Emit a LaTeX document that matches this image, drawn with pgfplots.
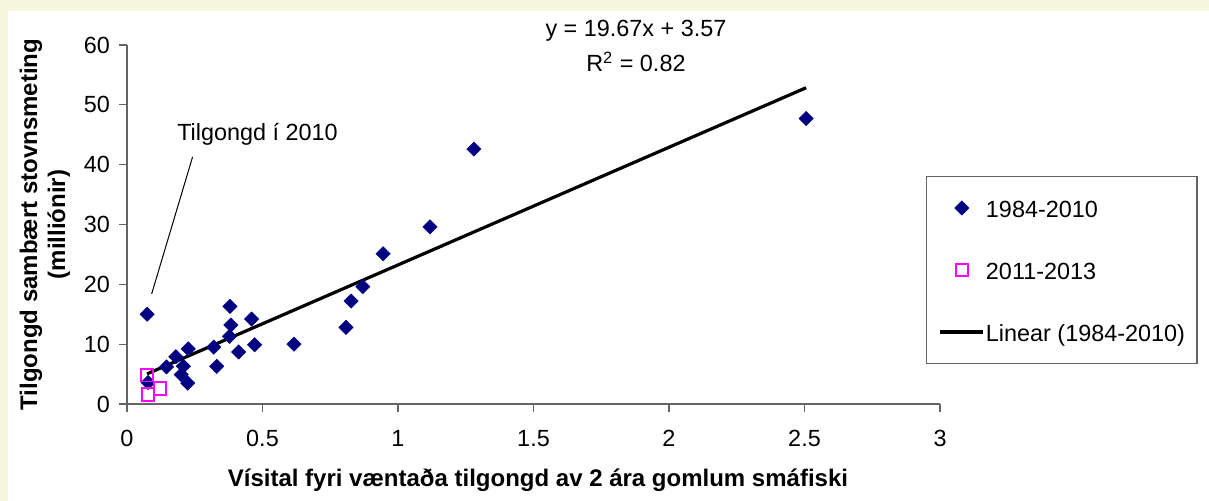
\documentclass[border=0pt]{standalone}
\usepackage{fontspec}
\setmainfont{Liberation Sans}
\usepackage{pgfplots}
\pgfplotsset{compat=1.18}
\definecolor{cream}{RGB}{245,247,223}
\definecolor{navyb}{RGB}{0,0,128}
\definecolor{magb}{RGB}{255,0,255}
\definecolor{axgray}{RGB}{100,100,100}
\newcommand{\fs}{\fontsize{11.7bp}{14bp}\selectfont}
\newcommand{\fb}{\fontsize{12bp}{14bp}\selectfont\bfseries}
\pgfplotsset{
  legmark/.style={legend image code/.code={\draw[mark repeat=2,mark phase=2,##1] plot coordinates {(0bp,0bp) (10.75bp,0bp) (21.5bp,0bp)};}},
  legline/.style={legend image code/.code={\draw[##1] (0bp,0bp) -- (21.5bp,0bp);}},
}
\pgfplotstableread{
x y
0.074 15.0
0.078 3.6
0.146 6.2
0.180 7.9
0.200 4.9
0.208 6.3
0.224 3.5
0.226 9.2
0.320 9.5
0.331 6.3
0.378 11.3
0.383 13.2
0.380 16.3
0.412 8.7
0.460 14.2
0.471 9.9
0.616 10.0
0.808 12.8
0.827 17.2
0.870 19.6
0.945 25.1
1.118 29.6
1.280 42.6
2.506 47.7
}\dataA
\pgfplotstableread{
x y
0.074 4.8
0.077 1.6
0.122 2.6
}\dataB
\begin{document}
\begin{tikzpicture}
\fill[cream] (-63.5bp,-48.5bp) rectangle (541bp,202bp);
\fill[white] (-59.5bp,-48.5bp) rectangle (541bp,196.5bp);
\begin{axis}[
  at={(0,0)}, anchor=south west,
  scale only axis, width=406.5bp, height=179.5bp,
  xmin=0, xmax=3, ymin=0, ymax=60,
  enlargelimits=false,
  axis lines=left, axis line style={-, axgray, line width=0.6bp},
  xtick={0,0.5,1,1.5,2,2.5,3}, ytick={0,10,20,30,40,50,60},
  tick align=outside, major tick length=4bp,
  tick style={axgray, line width=0.6bp},
  ticklabel style={font=\fs},
  xticklabel style={yshift=-5.5bp},
  yticklabel style={xshift=-1bp},
  /pgf/number format/assume math mode=true,
  clip=false,
  xlabel={Vísital fyri væntaða tilgongd av 2 ára gomlum smáfiski},
  xlabel style={font=\fb, at={(axis description cs:0.5055,-0.2290)}, anchor=base},
  ylabel={Tilgongd sambært stovnsmeting\\(milliónir)},
  ylabel style={font=\fb, align=center, at={(axis description cs:-0.1009,0.5)}, anchor=center, rotate=0},
  legend style={at={(axis description cs:0.983,0.635)}, anchor=north west,
    draw=axgray, line width=0.6bp, fill=white, font=\fs,
    inner xsep=6bp, inner ysep=6bp, row sep=11.7bp, column sep=0.5bp,
    nodes={inner sep=0pt, text height=14.3bp, text depth=5bp}},
  legend cell align=left,
]
\addplot[only marks, mark=square*, mark size=2.55bp,
  mark options={rotate=45, draw=navyb, fill=navyb, line width=0.2bp}, legmark]
  table[x=x,y=y]{\dataA};
\addlegendentry{1984-2010}
\addplot[only marks, mark=square, mark size=3.1bp,
  mark options={draw=magb, line width=0.9bp}, legmark]
  table[x=x,y=y]{\dataB};
\addlegendentry{2011-2013}
\addplot[black, line width=1.6bp, legline]
  coordinates {(0.074,5.03) (2.506,52.86)};
\addlegendentry{Linear (1984-2010)}
\draw[black, line width=0.5bp] (axis cs:0.242,41.3) -- (axis cs:0.091,18.4);
\node[font=\fs, anchor=base] at (axis cs:0.4815,43.96) {Tilgongd í 2010};
\node[font=\fs] at (axis cs:1.878,62.3) {y = 19.67x + 3.57};
\node[font=\fs] at (axis cs:1.878,57.2) {R\textsuperscript{2} = 0.82};
\end{axis}
\pgfresetboundingbox
\path[use as bounding box] (-63.5bp,-48.5bp) rectangle (541bp,202bp);
\end{tikzpicture}
\end{document}
